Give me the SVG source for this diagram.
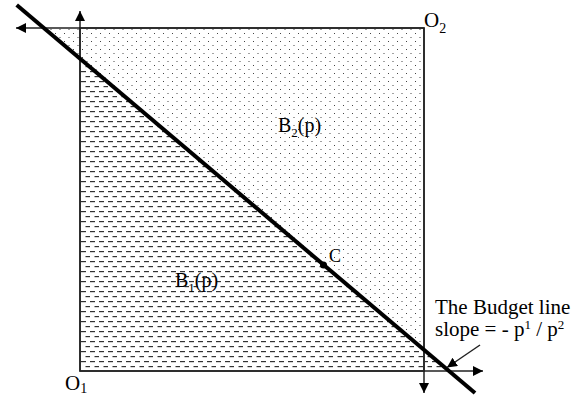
<svg xmlns="http://www.w3.org/2000/svg" width="583" height="396" viewBox="0 0 583 396">
<defs>
<pattern id="dots" width="9" height="8" patternUnits="userSpaceOnUse">
<rect x="1" y="1" width="1" height="1" fill="#444"/>
<rect x="5.5" y="5" width="1" height="1" fill="#444"/>
</pattern>
<pattern id="dashes" width="9" height="10" patternUnits="userSpaceOnUse">
<rect x="0" y="1" width="5" height="1.2" fill="#333"/>
<rect x="4.5" y="6" width="5" height="1.2" fill="#333"/>
</pattern>
<marker id="ah" viewBox="0 0 10 10" refX="10" refY="5" markerWidth="10" markerHeight="10" markerUnits="userSpaceOnUse" orient="auto">
<path d="M0,0 L10,5 L0,10 Z" fill="#000"/>
</marker>
</defs>
<style>
.t{font-family:"Liberation Serif","Times New Roman",serif;fill:#000;font-size:20px}
.box{fill:none;stroke:#555;stroke-width:2}
.ax{fill:none;stroke:#222;stroke-width:1.5;marker-end:url(#ah)}
</style>
<g id="regionB2"><polygon points="43.9,28 424,28 424,350.8" fill="url(#dots)"/></g>
<g id="regionB1"><polygon points="80,58.6 448.8,371 80,371" fill="url(#dashes)"/></g>
<g id="box"><rect class="box" x="80" y="28" width="344" height="343"/></g>
<g id="connectors">
<line class="ax" x1="424" y1="28" x2="16" y2="28"/>
<line class="ax" x1="80" y1="371" x2="80" y2="11"/>
<line class="ax" x1="424" y1="28" x2="424" y2="393"/>
<line class="ax" x1="80" y1="371" x2="483" y2="371"/>
<line x1="16.7" y1="5" x2="475" y2="393" stroke="#000" stroke-width="4"/>
<line class="ax" x1="480" y1="345" x2="447" y2="367.5"/>
</g>
<g id="pointC"><circle cx="323.5" cy="265" r="3.5" fill="#000"/><text class="t" x="329" y="262" style="font-size:18px">C</text></g>
<g id="O2"><text class="t" x="424" y="27" style="font-size:21px">O<tspan dy="6" style="font-size:14px">2</tspan></text></g>
<g id="O1"><text class="t" x="65" y="390" style="font-size:21px">O<tspan dy="3" style="font-size:14px">1</tspan></text></g>
<g id="B2"><text class="t" x="278" y="132">B<tspan dy="5" style="font-size:13px">2</tspan><tspan dy="-5">(p)</tspan></text></g>
<g id="B1"><text class="t" x="175" y="287">B<tspan dy="5" style="font-size:13px">1</tspan><tspan dy="-5">(p)</tspan></text></g>
<g id="label"><text class="t" x="435" y="314" style="font-size:21px">The Budget line</text>
<text class="t" x="435" y="336" style="font-size:21px">slope = - p<tspan dy="-7" style="font-size:13px">1</tspan><tspan dy="7"> / p</tspan><tspan dy="-7" style="font-size:13px">2</tspan></text></g>
</svg>
